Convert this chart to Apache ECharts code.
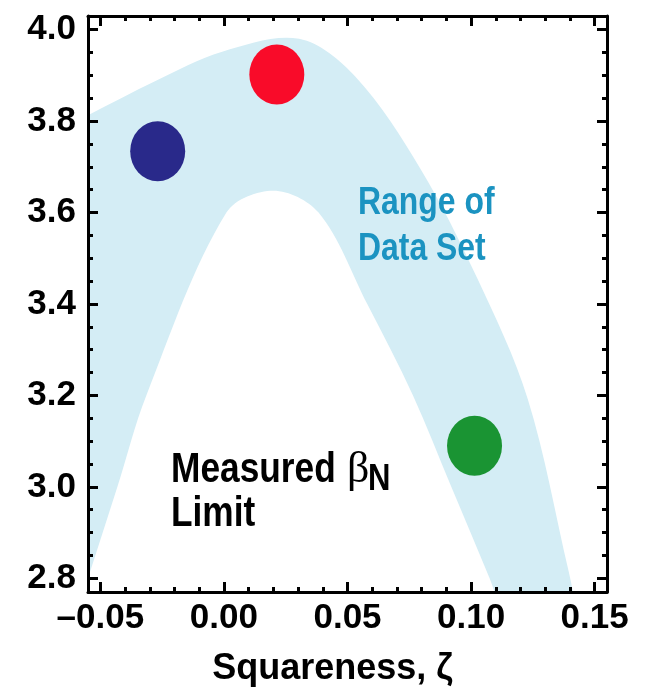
<!DOCTYPE html>
<html>
<head>
<meta charset="utf-8">
<script src="https://cdn.jsdelivr.net/npm/echarts@6/dist/echarts.min.js"></script>
<style>
html,body{margin:0;padding:0;background:#fff;}
#chart{width:650px;height:699px;}
</style>
</head>
<body>
<div id="chart"></div>
<script>
// ---- data ----
const outerX = [-0.055, -0.0277, -0.0007, 0.0304, 0.0534, 0.0796, 0.1026, 0.1229, 0.1395, 0.1411];
const outerY = [3.813, 3.888, 3.952, 3.980, 3.896, 3.695, 3.455, 3.193, 2.815, 2.774];
const innerX = [-0.055, -0.0431, -0.0314, 0.0010, 0.0200, 0.0383, 0.0580, 0.0765, 0.0920, 0.1075, 0.1095];
const innerY = [2.80, 3.0, 3.2, 3.6, 3.648, 3.6, 3.4, 3.2, 3.0, 2.8, 2.77];
const pointX = [-0.0268, 0.0214, 0.1014];
const pointY = [3.734, 3.902, 3.09];
const xMajorTicks = [-0.05, 0.00, 0.05, 0.10, 0.15];
const xMinorTicks = [-0.04, -0.03, -0.02, -0.01, 0.01, 0.02, 0.03, 0.04, 0.06, 0.07, 0.08, 0.09, 0.11, 0.12, 0.13, 0.14];
const yMajorTicks = [2.8, 3.0, 3.2, 3.4, 3.6, 3.8, 4.0];
const yMinorTicks = [2.85, 2.9, 2.95, 3.05, 3.1, 3.15, 3.25, 3.3, 3.35, 3.45, 3.5, 3.55, 3.65, 3.7, 3.75, 3.85, 3.9, 3.95];
const xTitle = 'Squareness, \u03b6';

// ---- styling ----
const FONT = '"Liberation Sans", Arial, Helvetica, sans-serif';
const pointColors = ['#29298a', '#f90b29', '#1a9433'];
const bandColor = '#d4edf5';
const X_MIN = -0.055, X_MAX = 0.155, Y_MIN = 2.77, Y_MAX = 4.03;

const chart = echarts.init(document.getElementById('chart'), null, {renderer: 'canvas'});

function xFmt(v) {
  const r = Math.round(v * 100) / 100;
  return (r < 0 ? '\u2013' : '') + Math.abs(r).toFixed(2);
}
function yFmt(v) { return (Math.round(v * 10) / 10).toFixed(1); }

function xAxisDef(pos, major) {
  return {
    type: 'value', position: pos, min: X_MIN, max: X_MAX, z: 10,
    splitLine: {show: false},
    axisLine: {show: major, onZero: false, lineStyle: {color: '#000', width: 3}},
    axisTick: {show: true, inside: true, length: major ? 10 : 5,
      customValues: major ? xMajorTicks : xMinorTicks,
      lineStyle: {color: '#000', width: 3}},
    axisLabel: (major && pos === 'bottom') ? {
      show: true, customValues: xMajorTicks, formatter: xFmt, margin: 9,
      color: '#000', fontFamily: FONT, fontWeight: 'bold', fontSize: 35
    } : {show: false},
    name: (major && pos === 'bottom') ? xTitle : '',
    nameLocation: 'middle', nameGap: 59,
    nameTextStyle: {color: '#000', fontFamily: FONT, fontWeight: 'bold', fontSize: 36, padding: [0, 30, 0, 0]}
  };
}
function yAxisDef(pos, major) {
  return {
    type: 'value', position: pos, min: Y_MIN, max: Y_MAX, z: 10,
    splitLine: {show: false},
    axisLine: {show: major, onZero: false, lineStyle: {color: '#000', width: 3}},
    axisTick: {show: true, inside: true, length: major ? 10 : 5,
      customValues: major ? yMajorTicks : yMinorTicks,
      lineStyle: {color: '#000', width: 3}},
    axisLabel: (major && pos === 'left') ? {
      show: true, customValues: yMajorTicks, formatter: yFmt, margin: 12,
      color: '#000', fontFamily: FONT, fontWeight: 'bold', fontSize: 35
    } : {show: false}
  };
}

// filled region under a smooth (chord-length Catmull-Rom) curve through the series points, down to the x axis
function areaRenderer(fillColor) {
  return function (params, api) {
    if (params.dataIndexInside !== 0) return null;
    const n = params.dataInsideLength;
    const pts = [];
    for (let i = 0; i < n; i++) pts.push(api.coord([api.value(0, i), api.value(1, i)]));
    const t = [0];
    for (let i = 1; i < n; i++) t.push(t[i - 1] + Math.hypot(pts[i][0] - pts[i - 1][0], pts[i][1] - pts[i - 1][1]));
    const m = pts.map((p, i) => {
      const a = pts[Math.max(0, i - 1)], b = pts[Math.min(n - 1, i + 1)];
      const dt = t[Math.min(n - 1, i + 1)] - t[Math.max(0, i - 1)];
      return [(b[0] - a[0]) / dt, (b[1] - a[1]) / dt];
    });
    const cs = params.coordSys;
    const bottom = cs.y + cs.height + 2;
    let d = 'M' + pts[0][0] + ' ' + bottom + ' L' + pts[0][0] + ' ' + pts[0][1];
    for (let i = 0; i < n - 1; i++) {
      const h = (t[i + 1] - t[i]) / 3;
      const c1 = [pts[i][0] + m[i][0] * h, pts[i][1] + m[i][1] * h];
      const c2 = [pts[i + 1][0] - m[i + 1][0] * h, pts[i + 1][1] - m[i + 1][1] * h];
      d += ' C' + c1[0] + ' ' + c1[1] + ' ' + c2[0] + ' ' + c2[1] + ' ' + pts[i + 1][0] + ' ' + pts[i + 1][1];
    }
    d += ' L' + pts[n - 1][0] + ' ' + bottom + ' Z';
    return {type: 'path', shape: {pathData: d}, style: {fill: fillColor, stroke: null}};
  };
}

const option = {
  animation: false,
  backgroundColor: '#fff',
  grid: {left: 88, right: 43, top: 16, bottom: 107},
  xAxis: [xAxisDef('bottom', true), xAxisDef('bottom', false), xAxisDef('top', true), xAxisDef('top', false)],
  yAxis: [yAxisDef('left', true), yAxisDef('left', false), yAxisDef('right', true), yAxisDef('right', false)],
  series: [
    {
      type: 'custom', name: 'Range of Data Set', xAxisIndex: 0, yAxisIndex: 0,
      data: outerX.map((x, i) => [x, outerY[i]]),
      encode: {x: 0, y: 1}, clip: true, silent: true, z: 1,
      renderItem: areaRenderer(bandColor)
    },
    {
      type: 'custom', name: 'Measured Limit', xAxisIndex: 0, yAxisIndex: 0,
      data: innerX.map((x, i) => [x, innerY[i]]),
      encode: {x: 0, y: 1}, clip: true, silent: true, z: 2,
      renderItem: areaRenderer('#ffffff')
    },
    {
      type: 'scatter', xAxisIndex: 0, yAxisIndex: 0,
      data: pointX.map((x, i) => [x, pointY[i]]),
      symbol: 'circle', symbolSize: [55, 60],
      itemStyle: {color: p => pointColors[p.dataIndex], opacity: 1},
      z: 5
    }
  ],
  graphic: [
    {type: 'text', x: 358, y: 181, scaleX: 0.84, z: 20,
      style: {text: 'Range of\nData Set', fill: '#1b93c1', font: 'bold 38px ' + FONT, lineHeight: 46, verticalAlign: 'top', align: 'left'}},
    {type: 'text', x: 171, y: 448, scaleX: 0.84, z: 20,
      style: {text: 'Measured\nLimit', fill: '#000', font: 'bold 42px ' + FONT, lineHeight: 44, verticalAlign: 'top', align: 'left'}},
    {type: 'text', x: 347, y: 448, z: 20,
      style: {text: '\u03b2', fill: '#000', font: '44px "Liberation Serif", "DejaVu Serif", serif', lineHeight: 44, verticalAlign: 'top', align: 'left'}},
    {type: 'text', x: 368, y: 458, scaleX: 0.84, z: 20,
      style: {text: 'N', fill: '#000', font: 'bold 37px ' + FONT, lineHeight: 44, verticalAlign: 'top', align: 'left'}}
  ]
};
chart.setOption(option);
</script>
</body>
</html>
